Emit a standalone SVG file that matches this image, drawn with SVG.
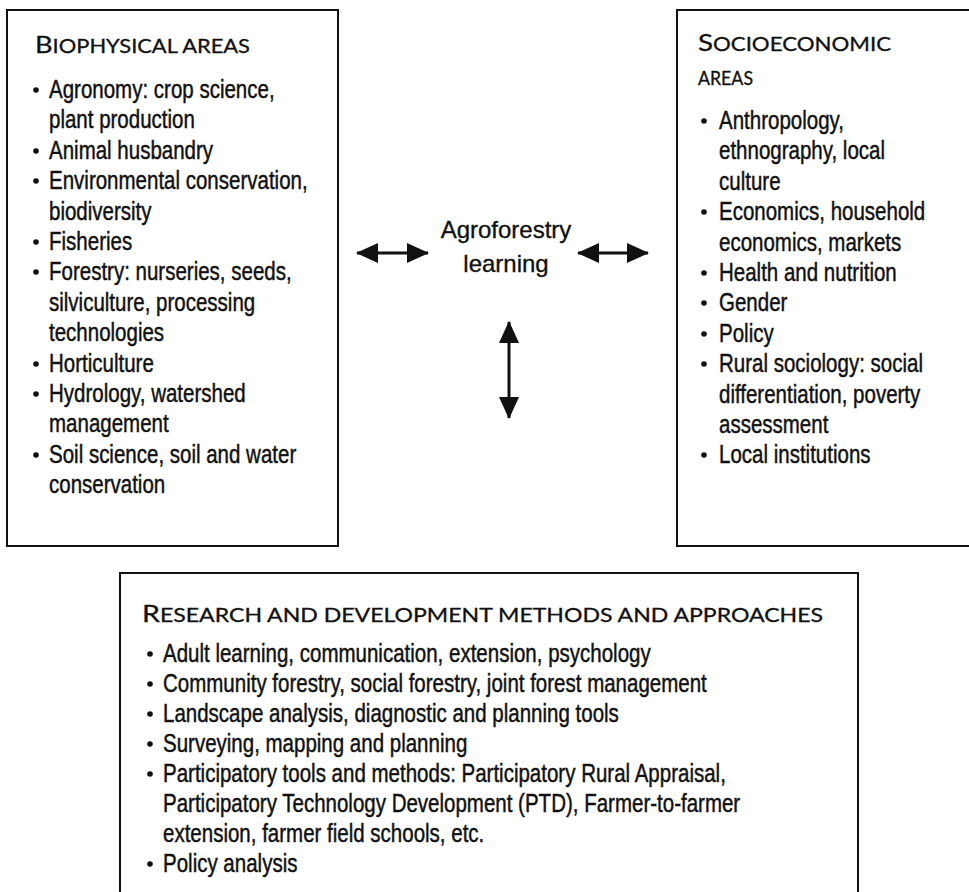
<svg xmlns="http://www.w3.org/2000/svg" width="969" height="892" viewBox="0 0 969 892">
<defs>
<style>
.box{fill:#fff;stroke:#111;stroke-width:2}
.ttl{font-family:"Lato","Open Sans","Liberation Sans",sans-serif;fill:#111;stroke:#111;stroke-width:0.3}
.big{font-size:23px}
.sm{font-size:18.5px}
.body{font-family:"Liberation Sans",Arial,sans-serif;font-size:25px;fill:#111;stroke:#111;stroke-width:0.45}
.dot{fill:#111}
.ctr{font-family:"Liberation Sans",Arial,sans-serif;font-size:24px;fill:#111;stroke:#111;stroke-width:0.35;text-anchor:middle}
.conn{stroke:#111;stroke-width:3;fill:none}
</style>
<marker id="ah" viewBox="0 0 22 20" refX="21" refY="10" markerWidth="22" markerHeight="20" markerUnits="userSpaceOnUse" orient="auto-start-reverse">
<path d="M0,0 L22,10 L0,20 Z" fill="#111"/>
</marker>
</defs>
<rect width="969" height="892" fill="#fff"/>

<g id="biophysical">
<rect class="box" x="7" y="10" width="331" height="536"/>
<text class="ttl" x="35" y="53" textLength="215" lengthAdjust="spacingAndGlyphs"><tspan class="big">B</tspan><tspan class="sm">IOPHYSICAL AREAS</tspan></text>
<g class="dot">
<circle cx="36" cy="90" r="2.8"/>
<circle cx="36" cy="151" r="2.8"/>
<circle cx="36" cy="181" r="2.8"/>
<circle cx="36" cy="242" r="2.8"/>
<circle cx="36" cy="272" r="2.8"/>
<circle cx="36" cy="364" r="2.8"/>
<circle cx="36" cy="394" r="2.8"/>
<circle cx="36" cy="455" r="2.8"/>
</g>
<g class="body" transform="translate(49 0) scale(0.82 1)">
<text x="0" y="98">Agronomy: crop science,</text>
<text x="0" y="128.4">plant production</text>
<text x="0" y="158.8">Animal husbandry</text>
<text x="0" y="189.2">Environmental conservation,</text>
<text x="0" y="219.6">biodiversity</text>
<text x="0" y="250">Fisheries</text>
<text x="0" y="280.4">Forestry: nurseries, seeds,</text>
<text x="0" y="310.8">silviculture, processing</text>
<text x="0" y="341.2">technologies</text>
<text x="0" y="371.6">Horticulture</text>
<text x="0" y="402">Hydrology, watershed</text>
<text x="0" y="432.4">management</text>
<text x="0" y="462.8">Soil science, soil and water</text>
<text x="0" y="493.2">conservation</text>
</g>
</g>

<g id="socioeconomic">
<rect class="box" x="677" y="10" width="300" height="536"/>
<text class="ttl" x="698" y="51" textLength="193" lengthAdjust="spacingAndGlyphs"><tspan class="big">S</tspan><tspan class="sm">OCIOECONOMIC</tspan></text>
<text class="ttl sm" x="698" y="85" textLength="55" lengthAdjust="spacingAndGlyphs">AREAS</text>
<g class="dot">
<circle cx="704" cy="121" r="2.8"/>
<circle cx="704" cy="212" r="2.8"/>
<circle cx="704" cy="273" r="2.8"/>
<circle cx="704" cy="303" r="2.8"/>
<circle cx="704" cy="334" r="2.8"/>
<circle cx="704" cy="364" r="2.8"/>
<circle cx="704" cy="455" r="2.8"/>
</g>
<g class="body" transform="translate(719 0) scale(0.82 1)">
<text x="0" y="129">Anthropology,</text>
<text x="0" y="159.4">ethnography, local</text>
<text x="0" y="189.8">culture</text>
<text x="0" y="220.2">Economics, household</text>
<text x="0" y="250.6">economics, markets</text>
<text x="0" y="281">Health and nutrition</text>
<text x="0" y="311.4">Gender</text>
<text x="0" y="341.8">Policy</text>
<text x="0" y="372.2">Rural sociology: social</text>
<text x="0" y="402.6">differentiation, poverty</text>
<text x="0" y="433">assessment</text>
<text x="0" y="463.4">Local institutions</text>
</g>
</g>

<g id="center">
<text class="ctr" x="506" y="238">Agroforestry</text>
<text class="ctr" x="506" y="272">learning</text>
</g>

<g id="methods">
<rect class="box" x="120" y="573" width="738" height="330"/>
<text class="ttl" x="142" y="622" textLength="681" lengthAdjust="spacingAndGlyphs"><tspan class="big">R</tspan><tspan class="sm">ESEARCH AND DEVELOPMENT METHODS AND APPROACHES</tspan></text>
<g class="dot">
<circle cx="150" cy="654" r="2.8"/>
<circle cx="150" cy="684" r="2.8"/>
<circle cx="150" cy="714" r="2.8"/>
<circle cx="150" cy="744" r="2.8"/>
<circle cx="150" cy="774" r="2.8"/>
<circle cx="150" cy="864" r="2.8"/>
</g>
<g class="body" transform="translate(163 0) scale(0.82 1)">
<text x="0" y="662">Adult learning, communication, extension, psychology</text>
<text x="0" y="692">Community forestry, social forestry, joint forest management</text>
<text x="0" y="722">Landscape analysis, diagnostic and planning tools</text>
<text x="0" y="752">Surveying, mapping and planning</text>
<text x="0" y="782">Participatory tools and methods: Participatory Rural Appraisal,</text>
<text x="0" y="812">Participatory Technology Development (PTD), Farmer-to-farmer</text>
<text x="0" y="842">extension, farmer field schools, etc.</text>
<text x="0" y="872">Policy analysis</text>
</g>
</g>

<g id="connectors">
<line class="conn" x1="357" y1="253" x2="428" y2="253" marker-start="url(#ah)" marker-end="url(#ah)"/>
<line class="conn" x1="578" y1="253" x2="648" y2="253" marker-start="url(#ah)" marker-end="url(#ah)"/>
<line class="conn" x1="509" y1="322" x2="509" y2="418" marker-start="url(#ah)" marker-end="url(#ah)"/>
</g>
</svg>
